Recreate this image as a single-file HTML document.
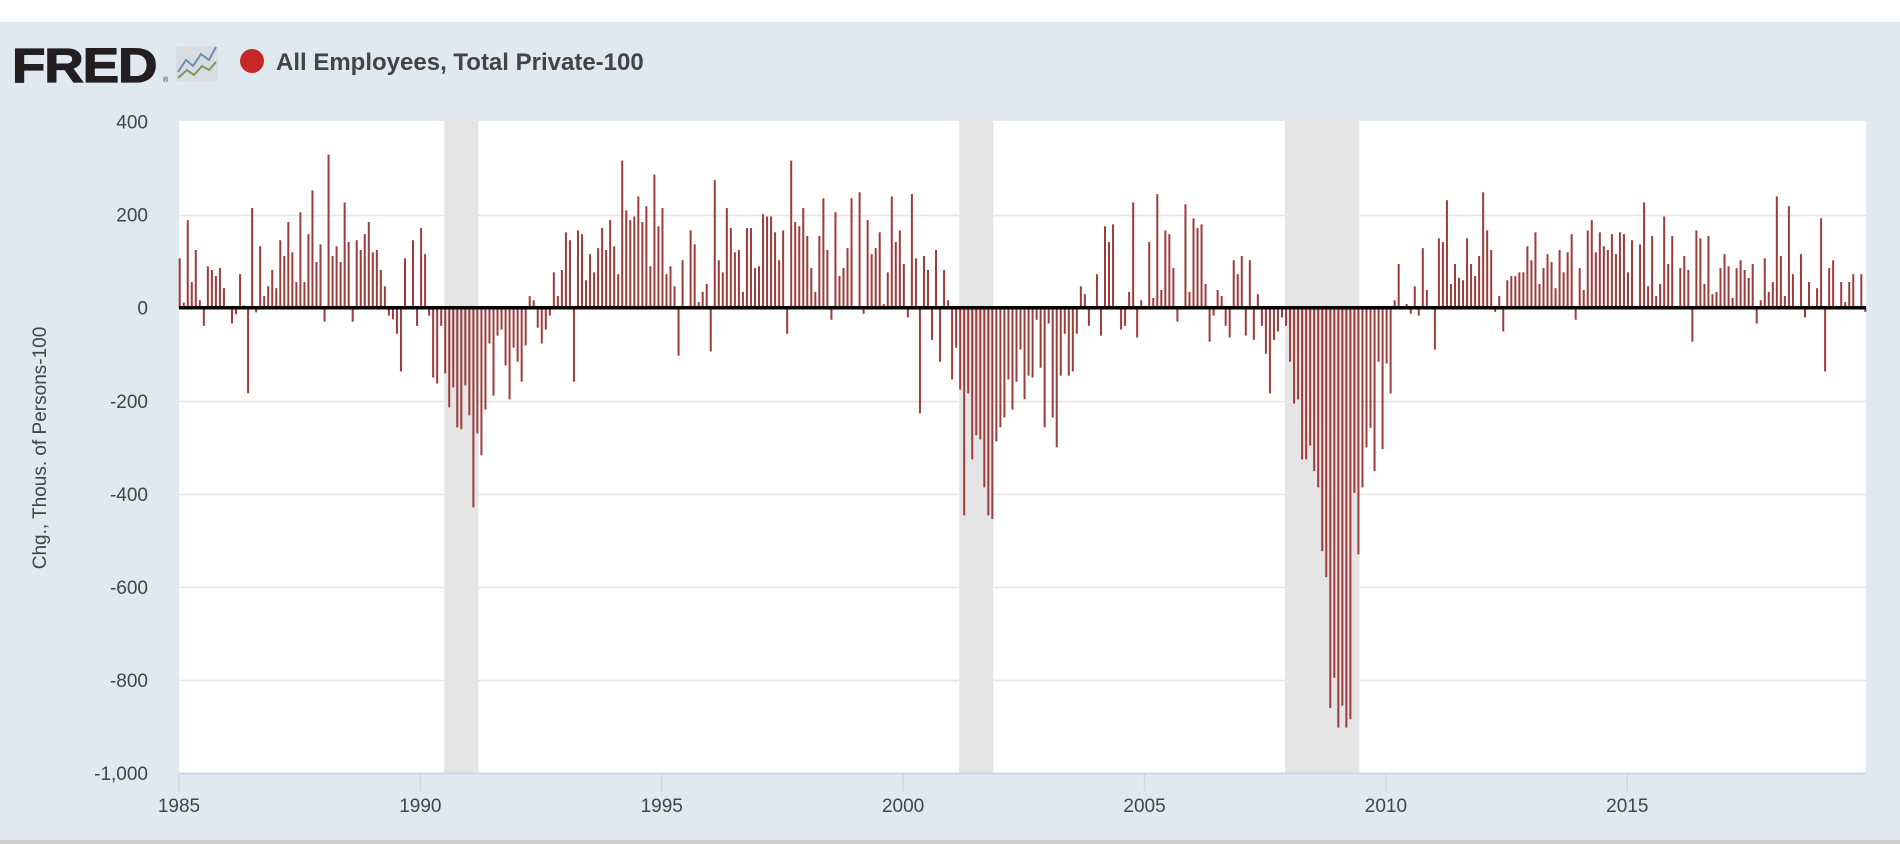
<!DOCTYPE html>
<html><head><meta charset="utf-8">
<style>
html,body{margin:0;padding:0;width:1900px;height:844px;overflow:hidden;background:#fff;font-family:"Liberation Sans",sans-serif;}
svg{display:block}
</style></head>
<body>
<svg id="chart" width="1900" height="844" xmlns="http://www.w3.org/2000/svg">
  <rect x="0" y="0" width="1900" height="844" fill="#ffffff"/>
  <rect x="0" y="22" width="1900" height="818" fill="#e1e9f0"/>
  <rect x="0" y="840" width="1900" height="4" fill="#cfcfcf"/>
  <g>
    <text x="12" y="82" font-size="48" font-weight="bold" fill="#231f20" stroke="#231f20" stroke-width="1.2" transform="translate(12 0) scale(1.14 1) translate(-12 0)" style="letter-spacing:-1px">FRED</text>
    <text x="163" y="82" font-size="7" fill="#231f20">®</text>
  </g>
  <g>
    <rect x="176" y="46" width="42" height="36" rx="3" fill="#d7dde3"/>
    <polyline points="178,72 186,60 193,66 201,54 209,60 216,47" fill="none" stroke="#6f8fab" stroke-width="2"/>
    <polyline points="178,78 187,70 194,75 202,66 209,70 216,62" fill="none" stroke="#7d9a52" stroke-width="2"/>
  </g>
  <circle cx="252" cy="61" r="12" fill="#c62828"/>
  <text x="276" y="70" font-size="24" font-weight="bold" fill="#444">All Employees, Total Private-100</text>
  <rect x="179" y="121" width="1687" height="652" fill="#ffffff"/>
  <g id="recessions"></g>
  <g id="grid"></g>
  <g id="bars"></g>
  <g id="axes"></g>
  <text transform="translate(46 448) rotate(-90)" text-anchor="middle" font-size="19" fill="#444">Chg., Thous. of Persons-100</text>
</svg>
<script>
const startYear = 1985;
const yTicks = [400, 200, 0, -200, -400, -600, -800, -1000];
const yTickLabels = ["400", "200", "0", "-200", "-400", "-600", "-800", "-1,000"];
const xTickYears = [1985, 1990, 1995, 2000, 2005, 2010, 2015];
const recessionStart = [66, 194, 275];
const recessionEnd = [74, 202, 293];
const values = [
106,11,188,55,124,16,-39,89,81,68,85,42,
3,-34,-14,72,5,-184,214,-10,132,25,46,81,
42,145,111,184,119,55,205,55,158,252,98,136,
-30,329,111,132,98,226,141,-30,145,124,158,184,
119,124,81,46,-17,-25,-56,-137,106,2,145,-39,
171,115,-17,-150,-163,-39,-141,-214,-171,-257,-261,-167,
-231,-429,-270,-317,-219,-77,-189,-60,-47,-124,-197,-86,
-116,-159,-81,25,16,-43,-77,-47,-17,76,25,81,
162,145,-159,166,158,59,115,76,128,171,124,188,
132,72,316,209,188,196,239,184,218,89,286,175,
214,72,89,46,-103,102,3,166,136,12,34,51,
-94,274,102,76,214,171,119,124,34,171,171,85,
89,201,196,196,162,102,166,-56,316,184,175,214,
154,85,34,154,235,124,-26,205,68,85,128,235,
3,248,-13,188,115,128,162,8,76,239,141,166,
94,-21,244,106,-227,111,81,-69,124,-116,81,16,
-154,-86,-176,-446,-184,-326,-274,-283,-386,-446,-454,-287,
-257,-236,-154,-219,-159,-90,-197,-146,-150,-26,-129,-257,
-34,-236,-300,-146,-56,-146,-137,-56,46,29,-39,2,
72,-60,175,141,179,3,-47,-39,34,226,-64,16,
3,141,21,244,38,166,158,85,-30,3,222,34,
192,171,179,51,-73,-17,38,25,-39,-64,102,72,
111,-60,102,-69,29,-39,-99,-184,-69,-51,-21,-39,
-116,-206,-197,-326,-326,-296,-351,-386,-523,-579,-860,-795,
-902,-855,-902,-884,-398,-530,-386,-300,-258,-351,-116,-304,
-120,-184,16,94,3,8,-13,46,-17,128,38,3,
-90,149,141,231,51,94,64,59,149,94,68,111,
248,166,124,-9,25,-51,59,68,68,76,76,132,
102,162,51,85,115,98,42,124,76,119,158,-26,
85,38,166,188,119,162,132,124,158,115,162,158,
76,145,3,136,226,46,154,25,51,196,94,154,
3,85,111,81,-73,166,149,51,154,29,34,85,
115,89,21,85,102,81,64,94,-34,16,106,34,
55,239,111,25,218,72,3,115,-21,55,3,42,
192,-137,85,102,3,55,12,55,72,3,72,-9
];

const NS = "http://www.w3.org/2000/svg";
const plotL = 179, plotR = 1866, plotT = 121, plotB = 773;
const x0 = 179.7, pxPerMonth = 4.023;
function xScale(m) { return x0 + pxPerMonth * m; }
function yScale(v) { return 307.7 - v * (465.5 / 1000); }
function mk(tag, attrs, parent) {
  const el = document.createElementNS(NS, tag);
  for (const k in attrs) el.setAttribute(k, attrs[k]);
  parent.appendChild(el);
  return el;
}

const recG = document.getElementById('recessions');
for (let i = 0; i < recessionStart.length; i++) {
  const xa = xScale(recessionStart[i]) - 1, xb = xScale(recessionEnd[i]) + 1;
  const r = mk('rect', {x: xa, y: plotT, width: xb - xa, height: plotB - plotT, fill: '#e5e5e5'}, recG);
  
  
}

const gridG = document.getElementById('grid');
const axG = document.getElementById('axes');
yTicks.forEach((v, i) => {
  const y = Math.round(yScale(v)) + 0.5;
  if (v !== 0 && v !== 400) {
    const g = mk('line', {x1: plotL, x2: plotR, y1: y, y2: y, stroke: '#e6e6e6', 'stroke-width': 1.5}, gridG);
    
    
  }
  const t = mk('text', {x: 148, y: yScale(v) + 7, 'text-anchor': 'end', 'font-size': 19, fill: '#444'}, axG);
  t.textContent = yTickLabels[i];
  
  
});

const barsG = document.getElementById('bars');
values.forEach((v, i) => {
  const x = xScale(i);
  const y1 = yScale(0), y2 = yScale(v);
  const b = mk('rect', {x: x - 1, y: Math.min(y1, y2), width: 2, height: Math.max(Math.abs(y2 - y1), 0.5), fill: '#9e3b3b'}, barsG);
  
  
});

const zl = mk('line', {x1: plotL, x2: plotR, y1: yScale(0), y2: yScale(0), stroke: '#000', 'stroke-width': 3.5}, axG);



const xl = mk('line', {x1: plotL, x2: plotR, y1: plotB + 0.5, y2: plotB + 0.5, stroke: '#ccd6eb', 'stroke-width': 2}, axG);



xTickYears.forEach(yr => {
  const x = xScale((yr - startYear) * 12) - 0.7;
  const tk = mk('line', {x1: x, x2: x, y1: plotB, y2: plotB + 18, stroke: '#ccd6eb', 'stroke-width': 1.5}, axG);
  
  
  const t = mk('text', {x: x, y: 812, 'text-anchor': 'middle', 'font-size': 19, fill: '#444'}, axG);
  t.textContent = String(yr);
  
  
});
</script>
</body></html>
